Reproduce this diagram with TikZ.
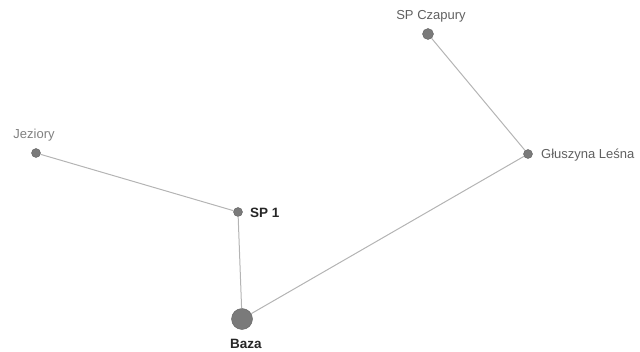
\documentclass[tikz,border=0pt]{standalone}
\usepackage{fontspec}
\setmainfont{Liberation Sans}
\definecolor{dotc}{HTML}{7A7A7A}
\definecolor{edgec}{HTML}{B4B4B4}
\definecolor{labc}{HTML}{606060}
\tikzset{
  dot/.style={circle,fill=dotc,draw=dotc!80!black,line width=0.4pt,minimum size=9pt,inner sep=0pt},
  bigdot/.style={dot,minimum size=21pt},
  lab/.style={text=labc,font=\fontsize{13}{14}\selectfont,inner sep=0pt},
  blab/.style={text=black!85,font=\fontsize{13.5}{15}\selectfont\bfseries,inner sep=0pt},
  edge/.style={draw=edgec,line width=1pt}
}
\begin{document}
\begin{tikzpicture}[x=1pt,y=-1pt]
\useasboundingbox (0,0) rectangle (640,352);
\node[dot] (jez) at (36,153) {};
\node[dot] (sp1) at (238,212) {};
\node[bigdot] (baza) at (242,319) {};
\node[dot,minimum size=11pt] (czap) at (428,34) {};
\node[dot] (glu) at (528,154) {};
\node[lab,text=labc!80] (ljez) at (34,135) {Jeziory};
\node[blab,anchor=west] (lsp1) at (250,213) {SP 1};
\node[blab] (lbaza) at (246,344) {Baza};
\node[lab] (lczap) at (431,16) {SP Czapury};
\node[lab,anchor=west] (lglu) at (541,155) {Głuszyna Leśna};
\draw[edge] (jez) -- (sp1);
\draw[edge] (sp1) -- (baza);
\draw[edge] (baza) -- (glu);
\draw[edge] (glu) -- (czap);
\end{tikzpicture}
\end{document}
